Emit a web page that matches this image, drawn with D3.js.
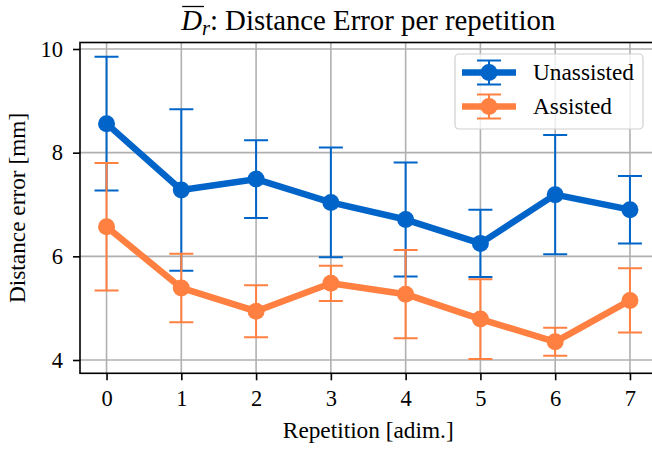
<!DOCTYPE html>
<html><head><meta charset="utf-8">
<script src="https://cdn.jsdelivr.net/npm/d3@7"></script>
<style>html,body{margin:0;padding:0;background:#fff;}svg{display:block;}</style>
</head><body>
<svg id="chart" width="652" height="449"></svg>
<script>
const repetitions = [0, 1, 2, 3, 4, 5, 6, 7];
const unassistedMean = [8.56, 7.28, 7.49, 7.04, 6.71, 6.25, 7.19, 6.90];
const unassistedErr  = [1.29, 1.56, 0.75, 1.06, 1.10, 0.65, 1.15, 0.65];
const assistedMean = [6.57, 5.39, 4.94, 5.48, 5.27, 4.79, 4.35, 5.15];
const assistedErr  = [1.23, 0.66, 0.50, 0.34, 0.85, 0.77, 0.27, 0.62];
const xTicks = [0, 1, 2, 3, 4, 5, 6, 7];
const yTicks = [4, 6, 8, 10];
const seriesNames = ["Unassisted", "Assisted"];
const seriesColors = ["#0064c8", "#ff8040"];

const FONT = "Liberation Serif";
const svg = d3.select("#chart");
const pL = 80, pR = 656.5, pT = 42.5, pB = 373.3;

const x = d3.scaleLinear().domain([-0.355, 7.355]).range([pL, pR]);
const y = d3.scaleLinear().domain([4, 10]).range([360, 49]);

// grid
const g = svg.append("g");
g.selectAll(".vg").data(xTicks).enter().append("line")
  .attr("x1", d => x(d)).attr("x2", d => x(d)).attr("y1", pT).attr("y2", pB)
  .attr("stroke", "#b0b0b0").attr("stroke-width", 1.6);
g.selectAll(".hg").data(yTicks).enter().append("line")
  .attr("x1", pL).attr("x2", pR).attr("y1", d => y(d)).attr("y2", d => y(d))
  .attr("stroke", "#b0b0b0").attr("stroke-width", 1.6);

const series = [
  {name: seriesNames[0], color: seriesColors[0], mean: unassistedMean, err: unassistedErr},
  {name: seriesNames[1], color: seriesColors[1], mean: assistedMean, err: assistedErr}
];

svg.append("clipPath").attr("id", "clip").append("rect")
  .attr("x", pL).attr("y", pT).attr("width", pR - pL).attr("height", pB - pT);
const plot = svg.append("g").attr("clip-path", "url(#clip)");

series.forEach(s => {
  const pts = repetitions.map((r, i) => ({r, m: s.mean[i], e: s.err[i]}));
  const sg = plot.append("g");
  sg.selectAll(".eb").data(pts).enter().append("line")
    .attr("x1", d => x(d.r)).attr("x2", d => x(d.r))
    .attr("y1", d => y(d.m - d.e)).attr("y2", d => y(d.m + d.e))
    .attr("stroke", s.color).attr("stroke-width", 2);
  ["lo", "hi"].forEach(k => {
    sg.selectAll(".cap" + k).data(pts).enter().append("line")
      .attr("x1", d => x(d.r) - 12).attr("x2", d => x(d.r) + 12)
      .attr("y1", d => y(k === "lo" ? d.m - d.e : d.m + d.e))
      .attr("y2", d => y(k === "lo" ? d.m - d.e : d.m + d.e))
      .attr("stroke", s.color).attr("stroke-width", 2);
  });
  sg.append("path").datum(pts)
    .attr("d", d3.line().x(d => x(d.r)).y(d => y(d.m)))
    .attr("fill", "none").attr("stroke", s.color).attr("stroke-width", 6.5)
    .attr("stroke-linejoin", "round");
  sg.selectAll(".pt").data(pts).enter().append("circle")
    .attr("cx", d => x(d.r)).attr("cy", d => y(d.m)).attr("r", 8.5)
    .attr("fill", s.color);
});

// frame
svg.append("rect").attr("x", pL).attr("y", pT).attr("width", pR - pL).attr("height", pB - pT)
  .attr("fill", "none").attr("stroke", "#000").attr("stroke-width", 1.6);

// axes
const xAxis = d3.axisBottom(x).tickValues(xTicks).tickSize(7).tickPadding(10).tickFormat(d3.format("d"));
const xa = svg.append("g").attr("transform", `translate(0,${pB})`).call(xAxis);
const yAxis = d3.axisLeft(y).tickValues(yTicks).tickSize(7).tickPadding(10).tickFormat(d3.format("d"));
const ya = svg.append("g").attr("transform", `translate(${pL},0)`).call(yAxis);
[xa, ya].forEach(a => {
  a.attr("font-family", FONT).attr("font-size", 22.5);
  a.select(".domain").remove();
  a.selectAll(".tick line").attr("stroke", "#000").attr("stroke-width", 1.6);
  a.selectAll(".tick text").attr("fill", "#000");
});
xa.selectAll(".tick text").attr("dy", "0.68em");

// axis labels
svg.append("text").attr("x", (pL + pR) / 2).attr("y", 438).attr("text-anchor", "middle")
  .attr("font-family", FONT).attr("font-size", 23.3).text("Repetition [adim.]");
svg.append("text").attr("transform", `translate(25,${(pT + pB) / 2}) rotate(-90)`)
  .attr("text-anchor", "middle")
  .attr("font-family", FONT).attr("font-size", 23.3).text("Distance error [mm]");

// title
const title = svg.append("text").attr("x", (pL + pR) / 2).attr("y", 30).attr("text-anchor", "middle")
  .attr("font-family", FONT).attr("font-size", 28.8);
title.append("tspan").attr("font-style", "italic").text("D");
title.append("tspan").attr("font-style", "italic").attr("font-size", 20.5).attr("dy", 5).text("r");
title.append("tspan").attr("dy", -5).text(": Distance Error per repetition");
const tn = title.node();
const d0 = tn.getStartPositionOfChar(0).x, d1 = tn.getEndPositionOfChar(0).x;
svg.append("line").attr("x1", d0 + 1).attr("x2", d1 + 2).attr("y1", 6.5).attr("y2", 6.5)
  .attr("stroke", "#000").attr("stroke-width", 1.3);

// legend
const lg = svg.append("g");
lg.append("rect").attr("x", 455).attr("y", 54).attr("width", 188).attr("height", 75).attr("rx", 4)
  .attr("fill", "#fff").attr("fill-opacity", 0.8).attr("stroke", "#d0d0d0").attr("stroke-width", 1.2);
series.forEach((s, i) => {
  const cy = 72.5 + i * 34;
  const e = lg.append("g");
  e.append("line").attr("x1", 489).attr("x2", 489).attr("y1", cy - 12).attr("y2", cy + 12)
    .attr("stroke", s.color).attr("stroke-width", 2);
  [cy - 12, cy + 12].forEach(yy => e.append("line").attr("x1", 477).attr("x2", 501)
    .attr("y1", yy).attr("y2", yy).attr("stroke", s.color).attr("stroke-width", 2));
  e.append("line").attr("x1", 462).attr("x2", 516).attr("y1", cy).attr("y2", cy)
    .attr("stroke", s.color).attr("stroke-width", 6.5);
  e.append("circle").attr("cx", 489).attr("cy", cy).attr("r", 8.5).attr("fill", s.color);
  e.append("text").attr("x", 533).attr("y", cy + 7.5)
    .attr("font-family", FONT).attr("font-size", 23.3).text(s.name);
});
</script>
</body></html>
